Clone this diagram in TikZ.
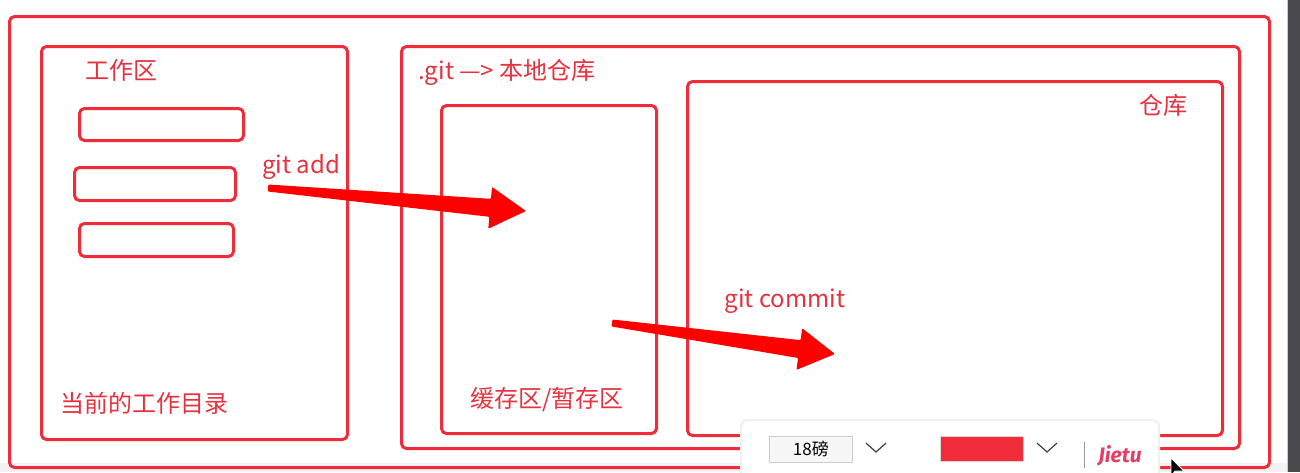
\documentclass[tikz,border=0pt]{standalone}
\usepackage{fontspec}
\newfontfamily\cjk{Noto Sans CJK SC}
\newfontfamily\jietufont{Fira Sans}
\usetikzlibrary{calc}
\definecolor{linered}{RGB}{240,44,58}
\definecolor{textred}{RGB}{230,50,62}
\definecolor{arrowred}{RGB}{255,0,0}
\definecolor{jietupink}{RGB}{228,62,102}
\definecolor{darkstrip}{RGB}{74,74,76}
\tikzset{
  box/.style={draw=linered, line width=3pt, rounded corners=5pt, anchor=north west, inner sep=0pt},
  lbl/.style={text=textred, font=\cjk\fontsize{24}{28}\selectfont, inner sep=0pt},
  chevron/.style={draw=black!75, line width=1.2pt},
}
\begin{document}
\begin{tikzpicture}[x=1pt, y=-1pt]
    \useasboundingbox (0,0) rectangle (1300,472);
    \fill[white] (0,0) rectangle (1300,472);
    \fill[black!5] (0,463) rectangle (1287,472);
    % right edge of the screen
    \fill[darkstrip] (1287,0) rectangle (1300,472);
    \draw[cyan!40, line width=1pt] (1287,0) -- (1287,472);

    % boxes
    \node[box, minimum width=1260, minimum height=451] (outer) at (8,15) {};
    \node[box, minimum width=306, minimum height=393] (work) at (40,45) {};
    \node[box, minimum width=164, minimum height=32] (file1) at (78,107) {};
    \node[box, minimum width=161, minimum height=33] (file2) at (73,166) {};
    \node[box, minimum width=154, minimum height=33] (file3) at (78,222) {};
    \node[box, minimum width=838, minimum height=402] (git) at (400,45) {};
    \node[box, minimum width=215, minimum height=328] (stage) at (440,104) {};
    \node[box, minimum width=535, minimum height=354] (repo) at (686,80) {};

    % labels
    \node[lbl] (worklbl) at (121,70) {工作区};
    \node[lbl, anchor=west] (dirlbl) at (60,403) {当前的工作目录};
    \node[lbl, anchor=west] (addlbl) at (262,167) {git add};
    \node[lbl, anchor=west] (gitlbl) at (418,72) {.git —> 本地仓库};
    \node[lbl] (repolbl) at (1163,105) {仓库};
    \node[lbl] (commitlbl) at (785,301) {git commit};
    \node[lbl] (stagelbl) at (547,400) {缓存区/暂存区};

    % arrows
    \coordinate (addS) at (268,188);
    \coordinate (addT) at (526,211);
    \coordinate (commitS) at (612,323);
    \coordinate (commitT) at (835,354);
    \foreach \s/\t in {addS/addT, commitS/commitT} {
        \coordinate (hb) at ($(\t)!36pt!(\s)$);
        \fill[arrowred, rounded corners=1pt] ($(\s)!3.5pt!90:(\t)$) -- ($(hb)!9pt!90:(\t)$)
            -- ($(hb)!21pt!90:(\t)$) -- (\t) -- ($(hb)!21pt!-90:(\t)$)
            -- ($(hb)!9pt!-90:(\t)$) -- ($(\s)!3.5pt!-90:(\t)$) -- cycle;
    }

    % toolbar
    \fill[black!6, rounded corners=7pt] (740,419) rectangle (1160,484);
    \node[fill=white, rounded corners=6pt, anchor=north west, minimum width=416, minimum height=60, inner sep=0pt] (bar) at (742,421) {};
    \node[fill=black!3, draw=black!20, line width=0.8pt, anchor=north west, minimum width=83, minimum height=26, inner sep=0pt,
          font=\cjk\fontsize{17}{20}\selectfont] (size) at (769,436) {18磅};
    \draw[chevron] (866,443) -- (876,452) -- (886,443);
    \node[fill=linered, draw=black!15, line width=0.5pt, anchor=north west, minimum width=83, minimum height=25, inner sep=0pt] (swatch) at (940,436) {};
    \draw[chevron] (1037,443) -- (1047,452) -- (1057,443);
    \draw[black!40, line width=1pt] (1084,442) -- (1084,468);
    \node[text=jietupink, font=\jietufont\bfseries\itshape\fontsize{21}{24}\selectfont, inner sep=0pt] (jietu) at (1120,456) {Jietu};
    % cursor
    \filldraw[fill=black, draw=white, line width=0.8pt] (1171,458) -- (1171,476) -- (1175,471) -- (1184,471) -- cycle;
\end{tikzpicture}
\end{document}
